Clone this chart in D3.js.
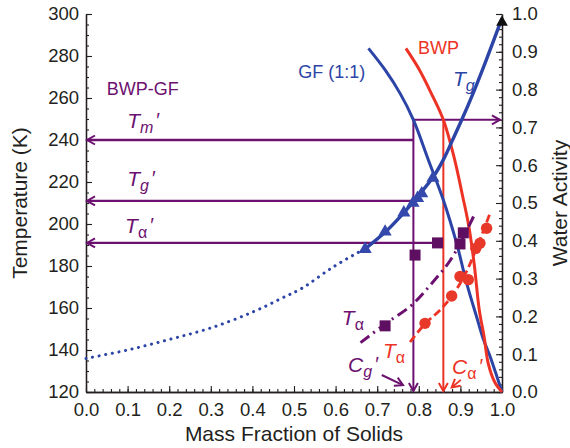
<!DOCTYPE html>
<html>
<head>
<meta charset="utf-8">
<script src="https://cdn.jsdelivr.net/npm/d3@7"></script>
<style>
  body { margin: 0; background: #fff; }
  svg { font-family: "Liberation Sans", Arial, Helvetica, sans-serif; }
</style>
</head>
<body>
<div id="chart"></div>
<script>
// Tg of GF (1:1), dotted = extrapolated part, solid = measured range
const tgDotX = [0, 0.1, 0.2, 0.3, 0.4, 0.47, 0.52, 0.59, 0.65, 0.67];
const tgDotT = [136, 140, 145, 150.5, 158, 164.6, 169.5, 179, 186, 188];
const tgSolidX = [0.67, 0.72, 0.76, 0.79, 0.835, 0.86, 0.88, 0.903, 0.93, 0.96, 1.0];
const tgSolidT = [188, 196.3, 204.5, 211.4, 222.5, 231, 239.5, 249.5, 262, 277, 298];
const tgTriX = [0.671, 0.719, 0.764, 0.786, 0.797, 0.807, 0.834];
const tgTriT = [188, 196.3, 205.4, 210, 212.3, 214.5, 221.9];

// sorption isotherms (right axis, water activity)
const gfX = [0.679, 0.719, 0.755, 0.787, 0.823, 0.859, 0.891, 0.915, 0.94, 0.955, 0.971, 0.985, 1.0];
const gfA = [0.909, 0.852, 0.79, 0.72, 0.614, 0.508, 0.393, 0.288, 0.195, 0.14, 0.095, 0.05, 0.0];
const bwpX = [0.769, 0.80, 0.83, 0.859, 0.885, 0.905, 0.92, 0.933, 0.945, 0.957, 0.967, 0.983, 1.0];
const bwpA = [0.909, 0.855, 0.79, 0.72, 0.62, 0.52, 0.44, 0.34, 0.22, 0.146, 0.075, 0.025, 0.0];

// T-alpha data + fits
const bgSqX = [0.719, 0.791, 0.845, 0.899, 0.907];
const bgSqT = [151.5, 185.2, 191, 190.5, 195.8];
const bgFitX = [0.66, 0.72, 0.783, 0.831, 0.879, 0.935];
const bgFitT = [143.5, 152.5, 161.4, 171.7, 183.7, 205];
const bwpCirX = [0.815, 0.879, 0.899, 0.919, 0.937, 0.947, 0.963];
const bwpCirT = [152.7, 165.7, 175, 173.5, 188.4, 190.8, 198];
const bwpFitX = [0.779, 0.815, 0.85, 0.879, 0.91, 0.94, 0.971];
const bwpFitT = [143.8, 152.5, 158.8, 165.5, 175.5, 189, 205];

// critical values
const awCrit = 0.72, cgPrime = 0.787, caPrime = 0.859;
const tmPrime = 240, tgPrime = 211, taPrime = 191;

const blue = "#2c44a6", red = "#ec3326", purple = "#6c1170", ink = "#231f20";

const W = 570, H = 448;
const m = { l: 86, r: 68, t: 14, b: 56 };

const x = d3.scaleLinear().domain([0, 1]).range([m.l, W - m.r]);
const yT = d3.scaleLinear().domain([120, 300]).range([H - m.b, m.t]);
const yA = d3.scaleLinear().domain([0, 1]).range([H - m.b, m.t]);

const svg = d3.select("#chart").append("svg").attr("width", W).attr("height", H);

const defs = svg.append("defs");
[["arrP", purple], ["arrR", red]].forEach(([id, c]) => {
    defs.append("marker").attr("id", id)
        .attr("markerUnits", "userSpaceOnUse")
        .attr("viewBox", "-10 -6 12 12")
        .attr("refX", 0).attr("refY", 0)
        .attr("markerWidth", 12).attr("markerHeight", 12)
        .attr("orient", "auto")
        .append("path")
        .attr("d", "M-8,-4.5L0,0L-8,4.5")
        .attr("fill", "none").attr("stroke", c).attr("stroke-width", 2);
});

// axes
function styleAxis(g) {
    g.selectAll("path.domain").attr("stroke", ink).attr("stroke-width", 1.3);
    g.selectAll(".tick line").attr("stroke", ink).attr("stroke-width", 1.1);
    g.selectAll(".tick text").attr("fill", ink).attr("font-size", 18.5);
}

svg.append("g").attr("transform", `translate(${m.l},0)`)
    .call(d3.axisLeft(yT).tickValues(d3.range(120, 301, 5)).tickSize(-3).tickSizeOuter(0).tickFormat(""))
    .call(styleAxis);
svg.append("g").attr("transform", `translate(${m.l},0)`)
    .call(d3.axisLeft(yT).tickValues(d3.range(120, 301, 20)).tickSize(-6).tickSizeOuter(0).tickPadding(7))
    .call(styleAxis);

svg.append("g").attr("transform", `translate(0,${H - m.b})`)
    .call(d3.axisBottom(x).tickValues(d3.range(0, 51).map(i => i / 50)).tickSize(-3).tickSizeOuter(0).tickFormat(""))
    .call(styleAxis);
svg.append("g").attr("transform", `translate(0,${H - m.b})`)
    .call(d3.axisBottom(x).tickValues(d3.range(0, 11).map(i => i / 10)).tickSize(-6).tickSizeOuter(0).tickPadding(11).tickFormat(d3.format(".1f")))
    .call(styleAxis);

svg.append("g").attr("transform", `translate(${W - m.r},0)`)
    .call(d3.axisRight(yA).tickValues(d3.range(0, 51).map(i => i / 50)).tickSize(-3).tickSizeOuter(0).tickFormat(""))
    .call(styleAxis);
svg.append("g").attr("transform", `translate(${W - m.r},0)`)
    .call(d3.axisRight(yA).tickValues(d3.range(0, 11).map(i => i / 10)).tickSize(-6).tickSizeOuter(0).tickPadding(10).tickFormat(d3.format(".1f")))
    .call(styleAxis);

// axis titles
svg.append("text").attr("transform", `translate(27,${(m.t + H - m.b) / 2}) rotate(-90)`)
    .attr("text-anchor", "middle").attr("font-size", 21).attr("fill", ink).text("Temperature (K)");
svg.append("text").attr("transform", `translate(567,${(m.t + H - m.b) / 2}) rotate(-90)`)
    .attr("text-anchor", "middle").attr("font-size", 21).attr("fill", ink).text("Water Activity");
svg.append("text").attr("x", (m.l + W - m.r) / 2).attr("y", 441)
    .attr("text-anchor", "middle").attr("font-size", 21).attr("fill", ink).text("Mass Fraction of Solids");

// line generators
const lineT = d3.line().x(d => x(d[0])).y(d => yT(d[1])).curve(d3.curveCatmullRom.alpha(0.5));
const lineA = d3.line().x(d => x(d[0])).y(d => yA(d[1])).curve(d3.curveCatmullRom.alpha(0.5));
const zip = (a, b) => a.map((v, i) => [v, b[i]]);

// purple guide lines and arrows
const guides = svg.append("g").attr("fill", "none");
guides.append("line")
    .attr("x1", x(cgPrime)).attr("y1", yT(tmPrime)).attr("x2", x(0) + 1).attr("y2", yT(tmPrime))
    .attr("stroke", purple).attr("stroke-width", 2.3).attr("marker-end", "url(#arrP)");
guides.append("line")
    .attr("x1", x(cgPrime)).attr("y1", yT(tgPrime)).attr("x2", x(0) + 1).attr("y2", yT(tgPrime))
    .attr("stroke", purple).attr("stroke-width", 2.3).attr("marker-end", "url(#arrP)");
guides.append("line")
    .attr("x1", x(bgSqX[2])).attr("y1", yT(taPrime)).attr("x2", x(0) + 1).attr("y2", yT(taPrime))
    .attr("stroke", purple).attr("stroke-width", 2.3).attr("marker-end", "url(#arrP)");
guides.append("line")
    .attr("x1", x(cgPrime)).attr("y1", yA(awCrit)).attr("x2", x(cgPrime)).attr("y2", yA(0) - 1)
    .attr("stroke", purple).attr("stroke-width", 2).attr("marker-end", "url(#arrP)");
guides.append("line")
    .attr("x1", x(cgPrime)).attr("y1", yA(awCrit)).attr("x2", x(0.995)).attr("y2", yA(awCrit))
    .attr("stroke", purple).attr("stroke-width", 2).attr("marker-end", "url(#arrP)");
guides.append("line")
    .attr("x1", x(caPrime)).attr("y1", yA(awCrit)).attr("x2", x(caPrime)).attr("y2", yA(0) - 1)
    .attr("stroke", red).attr("stroke-width", 2).attr("marker-end", "url(#arrR)");

// small pointer arrows from C labels
guides.append("line")
    .attr("x1", x(0.711)).attr("y1", yA(0.045)).attr("x2", x(0.762)).attr("y2", yA(0.018))
    .attr("stroke", purple).attr("stroke-width", 2).attr("marker-end", "url(#arrP)");
guides.append("line")
    .attr("x1", x(0.901)).attr("y1", yA(0.032)).attr("x2", x(0.879)).attr("y2", yA(0.012))
    .attr("stroke", red).attr("stroke-width", 1.8).attr("marker-end", "url(#arrR)");

// sorption isotherms
svg.append("path").datum(zip(gfX, gfA)).attr("d", lineA)
    .attr("fill", "none").attr("stroke", blue).attr("stroke-width", 3);
svg.append("path").datum(zip(bwpX, bwpA)).attr("d", lineA)
    .attr("fill", "none").attr("stroke", red).attr("stroke-width", 3);

// Tg curve
svg.append("path").datum(zip(tgDotX, tgDotT)).attr("d", lineT)
    .attr("fill", "none").attr("stroke", blue).attr("stroke-width", 3)
    .attr("stroke-linecap", "round").attr("stroke-dasharray", "0.1 6.6");
svg.append("path").datum(zip(tgSolidX, tgSolidT)).attr("d", lineT)
    .attr("fill", "none").attr("stroke", blue).attr("stroke-width", 3.4);

// T-alpha fits
svg.append("path").datum(zip(bgFitX, bgFitT)).attr("d", lineT)
    .attr("fill", "none").attr("stroke", purple).attr("stroke-width", 3)
    .attr("stroke-dasharray", "11 5 2 5");
svg.append("path").datum(zip(bwpFitX, bwpFitT)).attr("d", lineT)
    .attr("fill", "none").attr("stroke", red).attr("stroke-width", 2.8)
    .attr("stroke-dasharray", "8 4");

// markers
svg.append("g").selectAll("path").data(zip(tgTriX, tgTriT)).enter().append("path")
    .attr("transform", d => `translate(${x(d[0])},${yT(d[1])})`)
    .attr("d", d3.symbol().type(d3.symbolTriangle).size(75))
    .attr("fill", "#3549ad");
svg.append("path")
    .attr("transform", `translate(${x(1)},${yT(296)})`)
    .attr("d", d3.symbol().type(d3.symbolTriangle).size(60))
    .attr("fill", "#111");

svg.append("g").selectAll("rect").data(zip(bgSqX, bgSqT)).enter().append("rect")
    .attr("x", d => x(d[0]) - 5.5).attr("y", d => yT(d[1]) - 5.5)
    .attr("width", 11).attr("height", 11)
    .attr("fill", "#5e0f62");

svg.append("g").selectAll("circle").data(zip(bwpCirX, bwpCirT)).enter().append("circle")
    .attr("cx", d => x(d[0])).attr("cy", d => yT(d[1])).attr("r", 5.7)
    .attr("fill", "#e8382a");

// text labels
function symLabel(px, py, main, sub, prime, color) {
    const t = svg.append("text").attr("x", px).attr("y", py).attr("fill", color);
    t.append("tspan").attr("font-style", "italic").attr("font-size", 21).text(main);
    t.append("tspan").attr("font-size", 16).attr("dy", 5)
        .attr("font-style", sub === "α" ? "normal" : "italic").text(sub);
    if (prime) {
        t.append("tspan").attr("font-size", 20).attr("dy", -6).attr("dx", 2)
            .attr("font-style", "italic").text("′");
    }
}

symLabel(x(0.099), yT(245.7), "T", "m", true, purple);
symLabel(x(0.099), yT(218.1), "T", "g", true, purple);
symLabel(x(0.094), yT(195.7), "T", "α", true, purple);
symLabel(x(0.882), yT(265.7), "T", "g", false, blue);
symLabel(x(0.615), yT(151.9), "T", "α", false, purple);
symLabel(x(0.714), yT(136.2), "T", "α", false, red);
symLabel(x(0.63), yA(0.053), "C", "g", true, purple);
symLabel(x(0.88), yA(0.048), "C", "α", true, red);

svg.append("text").attr("x", x(0.05)).attr("y", yT(261.4)).attr("font-size", 18)
    .attr("fill", purple).text("BWP-GF");
svg.append("text").attr("x", x(0.51)).attr("y", yA(0.831)).attr("font-size", 18)
    .attr("fill", blue).text("GF (1:1)");
svg.append("text").attr("x", x(0.798)).attr("y", yA(0.894)).attr("font-size", 18)
    .attr("fill", red).text("BWP");
</script>
</body>
</html>
